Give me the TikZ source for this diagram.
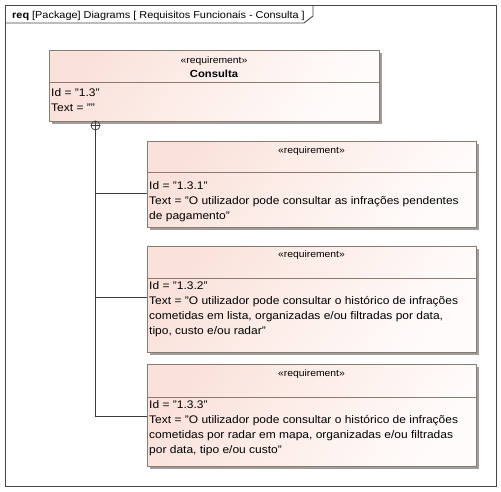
\documentclass[tikz,border=0pt]{standalone}
\usepackage{fontspec}
\setmainfont{Liberation Sans}[FakeStretch=1.09]
\usetikzlibrary{shadows}
\definecolor{reqpink}{RGB}{250,226,219}
\definecolor{reqlight}{RGB}{255,252,251}
\definecolor{reqborder}{RGB}{138,122,112}
\definecolor{framegray}{RGB}{70,70,70}
\definecolor{linegray}{RGB}{60,60,60}
\begin{document}
\begin{tikzpicture}[x=1pt,y=-1pt,
  reqbox/.style={draw=reqborder, line width=0.9pt, top color=reqpink, bottom color=reqlight, shading angle=55,
    drop shadow={shadow xshift=2.5pt, shadow yshift=-2.5pt, opacity=1, fill=black!38}},
  divider/.style={draw=reqborder, line width=0.9pt},
  stereo/.style={inner sep=0pt, anchor=base, font=\fontsize{9.5}{12}\selectfont},
  reqname/.style={inner sep=0pt, anchor=base, font=\fontsize{10.3}{13}\selectfont\bfseries},
  attr/.style={inner sep=0pt, anchor=base west, align=left, font=\fontsize{11}{15}\selectfont},
  conn/.style={draw=linegray, line width=0.8pt},
  hdr/.style={inner sep=0pt, anchor=base west, font=\fontsize{10}{12}\selectfont}
]
\useasboundingbox[fill=white] (0,0) rectangle (501,491);
% frame
\draw[framegray, line width=0.9pt] (5,5) rectangle (496,486);
\draw[framegray, line width=0.9pt] (5,23) -- (304,23) -- (313,16) -- (313,5);
\node[hdr] (title) at (12,18) {\textbf{req} [Package] Diagrams [ Requisitos Funcionais - Consulta ]};

% Consulta
\path[reqbox] (49,50) rectangle (379,121);
\draw[divider] (49,82) -- (379,82);
\node[stereo] (c0s) at (214,63) {«requirement»};
\node[reqname] (c0n) at (214,77) {Consulta};
\node[attr] (c0a) at (51,96.5) {Id = "1.3"};
\node[attr] (c0b) at (51,111) {Text = ""};
\node[draw=linegray, line width=0.7pt, circle, minimum size=9pt, inner sep=0pt] (cplus) at (95.5,125.5) {};
\draw[linegray, line width=0.7pt] (cplus.north) -- (cplus.south) (cplus.west) -- (cplus.east);

% box 1
\path[reqbox] (147,141) rectangle (476,227);
\draw[divider] (147,172) -- (476,172);
\node[stereo] (b1s) at (311.5,153) {«requirement»};
\node[attr] (b1a) at (149,189) {Id = "1.3.1"};
\node[attr] (b1b) at (149,204) {Text = "O utilizador pode consultar as infrações pendentes};
\node[attr] (b1c) at (149,219) {de pagamento"};
\coordinate (b1w) at (147,193);

% box 2
\path[reqbox] (147,246) rectangle (476,352);
\draw[divider] (147,278) -- (476,278);
\node[stereo] (b2s) at (311.5,257.5) {«requirement»};
\node[attr] (b2a) at (149,289) {Id = "1.3.2"};
\node[attr] (b2b) at (149,304) {Text = "O utilizador pode consultar o histórico de infrações};
\node[attr] (b2c) at (149,319) {cometidas em lista, organizadas e/ou filtradas por data,};
\node[attr] (b2d) at (149,334) {tipo, custo e/ou radar"};
\coordinate (b2w) at (147,297);

% box 3
\path[reqbox] (147,364) rectangle (476,466);
\draw[divider] (147,397) -- (476,397);
\node[stereo] (b3s) at (311.5,376) {«requirement»};
\node[attr] (b3a) at (149,408.5) {Id = "1.3.3"};
\node[attr] (b3b) at (149,423.5) {Text = "O utilizador pode consultar o histórico de infrações};
\node[attr] (b3c) at (149,438.5) {cometidas por radar em mapa, organizadas e/ou filtradas};
\node[attr] (b3d) at (149,453.5) {por data, tipo e/ou custo"};
\coordinate (b3w) at (147,416.5);

% containment connectors
\coordinate (j1) at (95.5,193);
\coordinate (j2) at (95.5,297);
\coordinate (j3) at (95.5,416.5);
\draw[conn] (cplus.south) -- (j3) -- (b3w);
\draw[conn] (j1) -- (b1w);
\draw[conn] (j2) -- (b2w);
\end{tikzpicture}
\end{document}
